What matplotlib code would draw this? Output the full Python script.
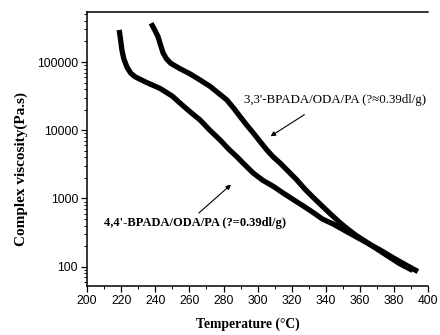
import numpy as np
import matplotlib
matplotlib.use("Agg")
from matplotlib import pyplot as plt
from matplotlib.ticker import FixedLocator, LogLocator, NullFormatter, FuncFormatter

# 4,4'-BPADA/ODA/PA curve (temperature in C, complex viscosity in Pa.s)
temp_44 = [218.8, 219.5, 220.4, 221.5, 223.3, 225.5, 228, 231, 235, 242.8,
           250, 254.5, 260, 266.3, 272, 278, 283, 287.8, 292, 297.5,
           303, 309.3, 315, 321, 327, 332.7, 338, 344.5, 348.4, 356,
           364, 372, 380, 387, 394]
visc_44 = [295000, 224000, 151000, 112000, 85000, 69000, 61000, 56000, 50000, 41000,
           31600, 25000, 19000, 14100, 10000, 7200, 5300, 4100, 3200, 2350,
           1850, 1500, 1200, 960, 770, 620, 500, 420, 370, 290,
           225, 175, 133, 106, 85]

# 3,3'-BPADA/ODA/PA curve
temp_33 = [237.5, 239.5, 241.6, 243, 244.6, 246.5, 249, 254, 260.4, 266,
           272.1, 277, 281.9, 286, 289.7, 293.5, 297.5, 301.5, 305.4, 309,
           313.2, 318, 323, 328, 332.7, 337.5, 342.5, 348.4, 352.3, 358,
           364, 370, 375.7, 383, 391]
visc_33 = [370000, 300000, 235000, 180000, 135000, 112000, 96000, 81000, 67000, 55000,
           44000, 35000, 27900, 21000, 15900, 12000, 9100, 6800, 5150, 4100,
           3300, 2500, 1870, 1350, 1030, 790, 600, 440, 365, 285,
           228, 182, 147, 112, 88]

x_ticks = [200, 220, 240, 260, 280, 300, 320, 340, 360, 380, 400]
y_ticks = [100, 1000, 10000, 100000]

label_33 = "3,3'-BPADA/ODA/PA (?\u22480.39dl/g)"
label_44 = "4,4'-BPADA/ODA/PA (?=0.39dl/g)"

serif = ['Liberation Serif', 'DejaVu Serif']
sans = ['Liberation Sans', 'DejaVu Sans']

fig = plt.figure(figsize=(4.4, 3.35), dpi=100)
ax = fig.add_axes([0.198, 0.146, 0.775, 0.818])

for t, v in [(temp_44, visc_44), (temp_33, visc_33)]:
	ax.plot(t, v, color="black", lw=3.8, solid_capstyle="butt", solid_joinstyle="round")

ax.set_yscale("log")
ax.set_xlim(200, 400)
ax.set_ylim(52, 540000)

ax.xaxis.set_major_locator(FixedLocator(x_ticks))
ax.xaxis.set_minor_locator(FixedLocator(np.arange(210, 400, 20)))
ax.yaxis.set_major_locator(FixedLocator(y_ticks))
ax.yaxis.set_minor_locator(LogLocator(base=10, subs=np.arange(2, 10)))
ax.yaxis.set_minor_formatter(NullFormatter())
ax.yaxis.set_major_formatter(FuncFormatter(lambda v, p: "%d" % v))

ax.tick_params(which="major", direction="out", length=4, width=0.9, labelsize=8.8, pad=2.5)
ax.tick_params(which="minor", direction="out", length=2, width=0.7)
for lab in ax.get_xticklabels() + ax.get_yticklabels():
	lab.set_family(sans)

ax.spines["right"].set_visible(False)
for s in ["left", "bottom", "top"]:
	ax.spines[s].set_linewidth(1.1)

ax.set_xlabel("Temperature (\u00b0C)", family=serif, fontweight="bold", fontsize=9.8)
ax.xaxis.set_label_coords(0.47, -0.115)
ax.set_ylabel("Complex viscosity(Pa.s)", family=serif, fontweight="bold", fontsize=11)
ax.yaxis.set_label_coords(-0.173, 0.427)

ax.annotate("", xy=(306.2, 7760), xytext=(328.8, 17800),
            arrowprops=dict(arrowstyle="-|>", color="black", lw=0.8, mutation_scale=7))
ax.text(345.5, 27900, label_33, family=serif, fontsize=9.3, ha="center", va="center")

ax.annotate("", xy=(285.6, 1700), xytext=(264.3, 575),
            arrowprops=dict(arrowstyle="-|>", color="black", lw=0.8, mutation_scale=7))
ax.text(263.3, 440, label_44, family=serif, fontweight="bold", fontsize=9.0, ha="center", va="center")

fig.savefig("out.png", dpi=100)
